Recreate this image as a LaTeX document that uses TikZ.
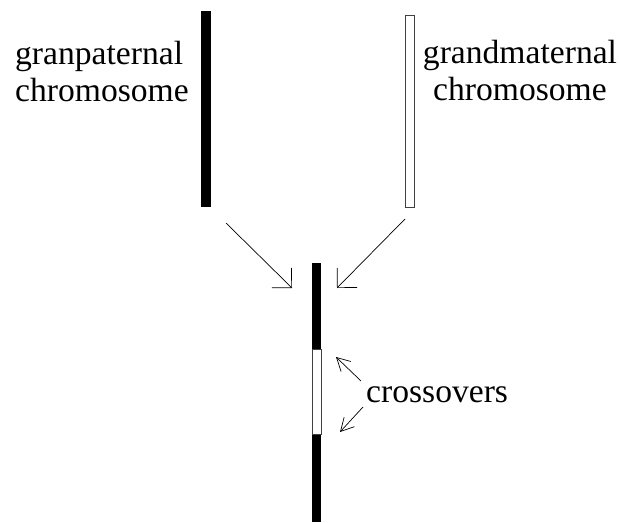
\documentclass[tikz,border=0pt]{standalone}
\usepackage{fontspec}
\setmainfont{Liberation Serif}
\usetikzlibrary{arrows.meta}
\begin{document}
\begin{tikzpicture}[x=1pt,y=-1pt,
  solidbar/.style={rectangle,fill=black,draw=none,inner sep=0pt,minimum width=10pt},
  hollowbar/.style={rectangle,fill=white,draw=black!75,line width=0.8pt,inner sep=0pt,minimum width=9pt},
  label/.style={inner sep=0pt,font=\fontsize{33.6pt}{37pt}\selectfont},
  bigarrow/.style={line width=0.7pt,-{Straight Barb[length=14pt,width=28pt,line width=0.7pt]}},
  smallarrow/.style={line width=0.7pt,-{Straight Barb[length=13pt,width=14pt,line width=0.7pt]}}]
\useasboundingbox (0,0) rectangle (620,522);

% parent chromosomes
\node[solidbar,minimum height=196pt] (gp) at (206,109) {};
\node[hollowbar,minimum height=192pt] (gm) at (409.5,111) {};

% recombined chromosome: black, white, black
\node[solidbar,minimum width=9.5pt,minimum height=259pt,anchor=north] (child) at (316.5,263) {};
\node[hollowbar,minimum height=85pt] (swap) at (316.5,391.5) {};

% labels (base anchor sits on the last line)
\node[label,align=left,anchor=base west] (gptext) at (15,101) {granpaternal\\chromosome};
\node[label,align=center,anchor=base] (gmtext) at (520,100) {grandmaternal\\chromosome};
\node[label,anchor=base west] (cotext) at (366,402) {crossovers};

% inheritance arrows
\coordinate (a1) at (226,223);
\coordinate (a1tip) at (292,288);
\coordinate (a2) at (405,219);
\coordinate (a2tip) at (337,288);
\draw[bigarrow] (a1) -- (a1tip);
\draw[bigarrow] (a2) -- (a2tip);

% crossover pointers
\coordinate (c1) at (361,381);
\coordinate (c1tip) at (336,357);
\coordinate (c2) at (363,407);
\coordinate (c2tip) at (340,432);
\draw[smallarrow] (c1) -- (c1tip);
\draw[smallarrow] (c2) -- (c2tip);
\end{tikzpicture}
\end{document}
